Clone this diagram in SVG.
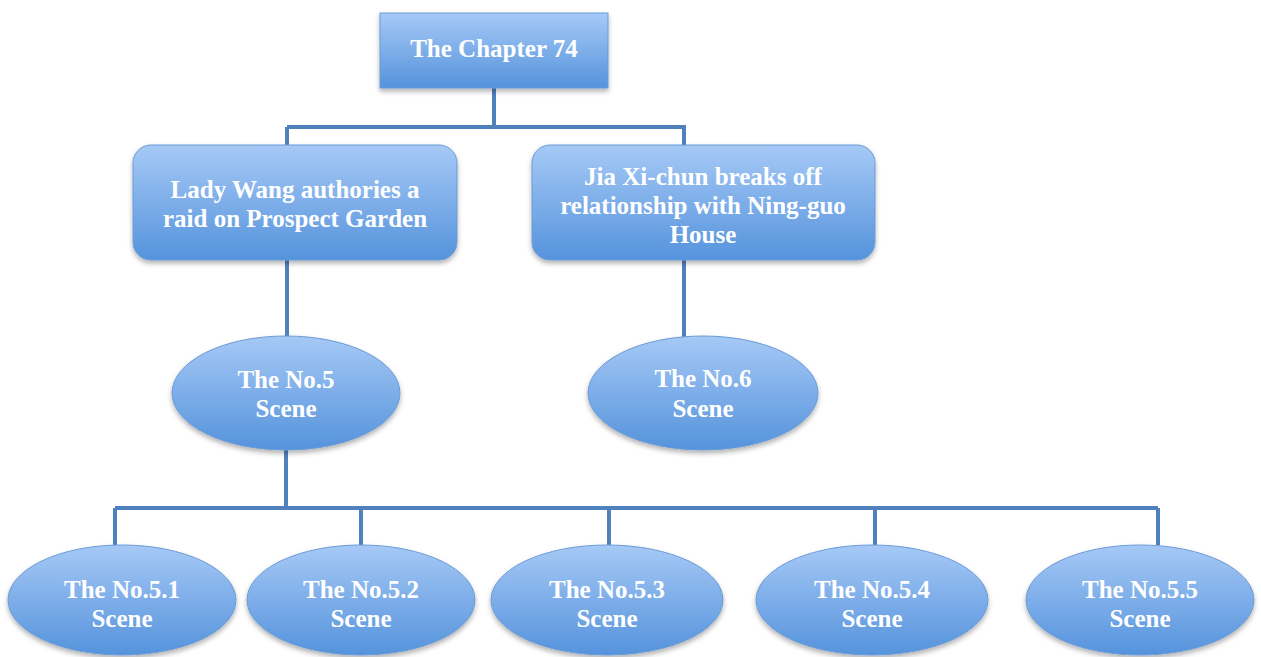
<svg xmlns="http://www.w3.org/2000/svg" width="1261" height="657" viewBox="0 0 1261 657">
<defs>
<linearGradient id="g" x1="0" y1="0" x2="0" y2="1">
<stop offset="0" stop-color="#a6c9f6"/>
<stop offset="1" stop-color="#5593dc"/>
</linearGradient>
<filter id="sh" x="-10%" y="-10%" width="120%" height="130%">
<feDropShadow dx="0" dy="3" stdDeviation="2.5" flood-color="#000" flood-opacity="0.3"/>
</filter>
<style>
.n{fill:url(#g);stroke:#6b9bd6;stroke-width:1;filter:url(#sh)}
.c{fill:none;stroke:#4f81bd;stroke-width:4}
.t{font-family:"Liberation Serif","DejaVu Serif",serif;font-weight:bold;font-size:25px;fill:#fff;text-anchor:middle}
</style>
</defs>
<rect width="1261" height="657" fill="#fff"/>
<g id="connectors">
<path class="c" d="M494 88V127M287 127H684V145M287 127V145M287 260V337M684 260V337M286 450V508M115 508H1158M115 508V545M361 508V545M609 508V545M875 508V545M1158 508V545"/>
</g>
<g id="chapter74">
<rect class="n" x="380" y="13" width="228" height="75"/>
<text class="t" x="494" y="57">The Chapter 74</text>
</g>
<g id="ladywang">
<rect class="n" x="133" y="145" width="324" height="115" rx="18"/>
<text class="t" x="295" y="198">Lady Wang authories a</text>
<text class="t" x="295" y="227">raid on Prospect Garden</text>
</g>
<g id="jiaxichun">
<rect class="n" x="532" y="145" width="343" height="115" rx="18"/>
<text class="t" x="703" y="185">Jia Xi-chun breaks off</text>
<text class="t" x="703" y="214">relationship with Ning-guo</text>
<text class="t" x="703" y="243">House</text>
</g>
<g id="scene5">
<ellipse class="n" cx="286" cy="393" rx="114" ry="57"/>
<text class="t" x="286" y="388">The No.5</text>
<text class="t" x="286" y="417">Scene</text>
</g>
<g id="scene6">
<ellipse class="n" cx="703" cy="393" rx="115" ry="57"/>
<text class="t" x="703" y="387">The No.6</text>
<text class="t" x="703" y="417">Scene</text>
</g>
<g id="scene51">
<ellipse class="n" cx="122" cy="600" rx="114" ry="55"/>
<text class="t" x="122" y="598">The No.5.1</text>
<text class="t" x="122" y="627">Scene</text>
</g>
<g id="scene52">
<ellipse class="n" cx="361" cy="600" rx="114" ry="55"/>
<text class="t" x="361" y="598">The No.5.2</text>
<text class="t" x="361" y="627">Scene</text>
</g>
<g id="scene53">
<ellipse class="n" cx="607" cy="600" rx="116" ry="55"/>
<text class="t" x="607" y="598">The No.5.3</text>
<text class="t" x="607" y="627">Scene</text>
</g>
<g id="scene54">
<ellipse class="n" cx="872" cy="600" rx="116" ry="55"/>
<text class="t" x="872" y="598">The No.5.4</text>
<text class="t" x="872" y="627">Scene</text>
</g>
<g id="scene55">
<ellipse class="n" cx="1140" cy="600" rx="114" ry="55"/>
<text class="t" x="1140" y="598">The No.5.5</text>
<text class="t" x="1140" y="627">Scene</text>
</g>
</svg>
